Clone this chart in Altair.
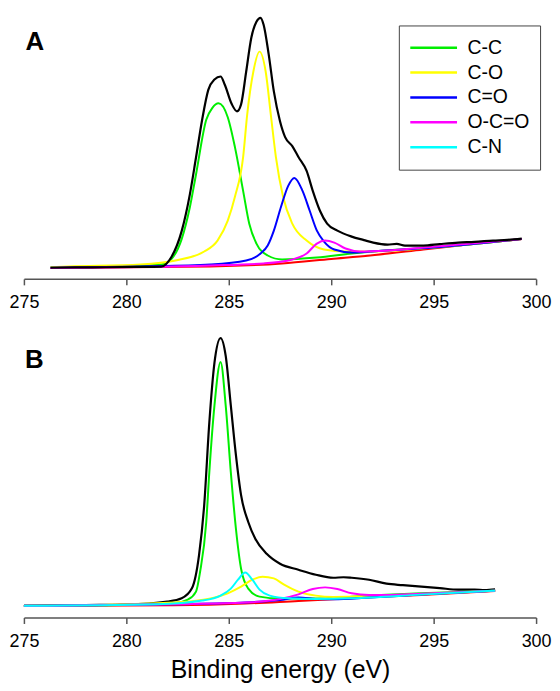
import altair as alt
import pandas as pd

SERIES = ["C-C", "C-O", "C=O", "O-C=O", "C-N"]
COLORS = ["#00ee00", "#ffff00", "#0000ff", "#ff00ff", "#00ffff"]
TICKS = [275, 280, 285, 290, 295, 300]

# ---------------- Panel A (intensity, arbitrary units) ----------------
a_env_x = [276.3, 277.5, 279.0, 280.5, 281.7, 282.2, 282.7, 283.1, 283.4, 283.7, 284.0, 284.3,
           284.6, 284.8, 285.15, 285.4, 285.6, 285.85, 286.1, 286.35, 286.55, 286.7, 286.95,
           287.2, 287.5, 287.75, 288.1, 288.4, 288.8, 289.1, 289.45, 289.8, 290.3, 291.0,
           291.6, 292.05, 292.75, 293.2, 293.6, 294.5, 295.3, 296.2, 297.0, 297.9, 298.6, 299.3]
a_env_y = [11.2, 11.5, 11.7, 12.0, 12.4, 22.0, 48.0, 85.0, 122.0, 160.0, 190.0, 200.5,
           203.5, 195.5, 175.5, 168.5, 175.5, 208.5, 242.5, 258.5, 262.5, 255.5, 225.5,
           188.5, 158.5, 142.5, 133.5, 122.5, 108.5, 88.5, 68.5, 55.5, 48.5, 42.5,
           39.0, 36.5, 34.5, 35.2, 33.5, 33.5, 35.0, 36.5, 37.2, 38.5, 39.2, 40.5]

a_cc_x = [276.3, 279.0, 281.7, 282.2, 282.7, 283.1, 283.4, 283.9, 284.2, 284.5, 284.95, 285.3,
          285.7, 286.0, 286.35, 286.9, 287.6, 289.3, 291.0, 292.0, 295.0, 299.3]
a_cc_y = [11.5, 12.0, 14.5, 20.0, 40.0, 72.0, 105.0, 160.0, 172.0, 176.5, 162.5, 132.5,
          88.5, 55.5, 35.5, 23.5, 19.5, 21.5, 25.5, 27.5, 31.5, 40.0]

a_co_x = [276.3, 277.2, 280.7, 282.4, 283.8, 284.45, 284.95, 285.3, 285.7, 285.9, 286.2, 286.5,
          286.8, 287.05, 287.3, 287.65, 288.1, 288.8, 289.65, 290.7, 291.9, 295.0, 299.3]
a_co_y = [11.8, 12.5, 14.5, 18.5, 27.5, 38.5, 58.5, 82.5, 122.5, 165.5, 208.5, 228.5,
          208.5, 165.5, 122.5, 82.5, 55.5, 38.5, 29.5, 27.5, 27.5, 31.5, 40.0]

a_cdo_x = [276.3, 280.7, 284.1, 285.85, 286.55, 286.9, 287.2, 287.55, 287.9, 288.2, 288.6,
           288.95, 289.3, 289.65, 290.15, 291.0, 291.9, 295.0, 299.3]
a_cdo_y = [11.2, 12.5, 14.5, 18.5, 25.5, 33.5, 48.5, 72.5, 93.5, 101.5, 88.5,
           68.5, 48.5, 37.5, 29.5, 26.5, 27.5, 31.5, 40.0]

a_oco_x = [276.3, 284.1, 286.7, 288.1, 288.8, 289.3, 289.7, 290.15, 290.7, 291.4, 292.75,
           294.5, 296.2, 299.3]
a_oco_y = [11.0, 13.5, 15.5, 19.5, 25.5, 35.5, 38.5, 36.5, 30.5, 27.5, 28.5,
           31.5, 34.5, 40.0]

a_bg_x = [276.3, 284.1, 287.6, 290.0, 291.9, 294.5, 297.1, 299.3]
a_bg_y = [11.0, 12.5, 15.5, 20.0, 23.5, 29.5, 35.5, 40.0]

# ---------------- Panel B ----------------
b_env_x = [275.0, 278.0, 280.0, 282.0, 282.7, 283.2, 283.55, 283.8, 284.05, 284.3, 284.6,
           284.85, 285.1, 285.35, 285.6, 285.95, 286.3, 286.85, 287.5, 288.4, 289.25, 290.1,
           290.6, 291.0, 291.85, 292.7, 293.5, 294.4, 295.3, 296.2, 297.0, 297.5, 298.0]
b_env_y = [11.7, 12.5, 13.0, 16.0, 19.3, 29.3, 63.0, 113.0, 196.0, 256.0, 281.0,
           263.0, 213.0, 163.0, 123.0, 96.0, 79.0, 64.0, 54.0, 48.0, 43.0, 40.0,
           40.5, 40.0, 38.0, 34.0, 32.5, 31.0, 29.5, 28.0, 28.0, 27.5, 28.3]

b_cc_x = [275.0, 278.9, 282.3, 283.0, 283.4, 283.6, 283.9, 284.05, 284.3, 284.6, 284.85,
          285.1, 285.35, 285.6, 285.95, 286.5, 287.5, 289.25, 291.0, 292.7, 294.4, 298.0]
b_cc_y = [11.7, 12.3, 14.3, 18.0, 26.0, 46.0, 96.0, 146.0, 213.0, 257.0, 213.0,
          146.0, 89.0, 49.0, 29.0, 21.0, 19.0, 19.0, 21.0, 23.0, 24.5, 27.0]

b_co_x = [275.0, 278.9, 282.3, 284.05, 284.95, 285.6, 286.15, 286.65, 287.2, 287.7, 288.4,
          289.25, 290.1, 291.85, 294.4, 298.0]
b_co_y = [11.7, 12.7, 15.0, 19.0, 24.3, 31.0, 38.0, 41.0, 39.3, 33.0, 26.0,
          22.0, 20.7, 21.3, 23.3, 27.0]

b_cdo_x = [275.0, 282.3, 285.8, 287.5, 288.4, 289.25, 290.1, 291.85, 294.4, 298.0]
b_cdo_y = [11.7, 13.3, 15.0, 17.7, 20.0, 18.7, 18.3, 20.0, 23.0, 27.0]

b_oco_x = [275.0, 282.3, 285.8, 287.5, 288.4, 289.1, 289.7, 290.3, 291.0, 291.85, 292.7,
           294.4, 298.0]
b_oco_y = [11.7, 13.3, 15.0, 18.7, 23.3, 28.7, 30.3, 28.7, 24.3, 22.7, 22.7,
           24.0, 27.0]

b_cn_x = [275.0, 281.5, 283.7, 284.6, 285.1, 285.45, 285.8, 286.15, 286.5, 287.0, 287.9,
          289.25, 291.0, 294.4, 298.0]
b_cn_y = [11.7, 13.3, 17.0, 22.0, 29.0, 38.0, 45.3, 38.0, 28.0, 22.0, 19.3,
          18.7, 19.3, 23.0, 27.0]

b_bg_x = [275.0, 282.3, 285.8, 288.4, 291.0, 294.4, 298.0]
b_bg_y = [11.7, 12.3, 14.0, 16.7, 19.3, 22.7, 26.7]

W = 515
HA = 264
HB = 289.5
FONT = "Liberation Sans"


def x_enc(title=None):
    kw = dict(values=TICKS, tickSize=6, tickWidth=1.5, tickColor="#555",
              domainColor="#555", domainWidth=1.5, labelFontSize=18, labelFont=FONT,
              labelColor="black", labelPadding=9, labelFlush=False, grid=False)
    if title:
        kw.update(title=title, titleFontSize=25, titleFont=FONT, titleFontWeight="normal",
                  titleColor="black", titlePadding=7)
    else:
        kw.update(title=None)
    return alt.X("E:Q", scale=alt.Scale(domain=[275, 300], nice=False, zero=False),
                 axis=alt.Axis(**kw))


def y_enc(h):
    return alt.Y("I:Q", scale=alt.Scale(domain=[0, h], nice=False, zero=False), axis=None)


def plain_line(xs, ys, color, width, h, title=None):
    df = pd.DataFrame({"E": xs, "I": ys})
    return alt.Chart(df).mark_line(color=color, strokeWidth=width, interpolate="monotone").encode(
        x=x_enc(title), y=y_enc(h))


def comp_line(xs, ys, name, h, legend, title=None):
    df = pd.DataFrame({"E": xs, "I": ys, "series": [name] * len(xs)})
    return alt.Chart(df).mark_line(strokeWidth=2, interpolate="monotone").encode(
        x=x_enc(title), y=y_enc(h),
        color=alt.Color("series:N", scale=alt.Scale(domain=SERIES, range=COLORS), legend=legend))


legend_a = alt.Legend(title=None, orient="none", legendX=377, legendY=9.2,
                      symbolType="stroke", symbolSize=2209, symbolStrokeWidth=2.5,
                      clipHeight=24.75, rowPadding=0, labelFontSize=19.5, labelFont=FONT,
                      labelColor="black", labelOffset=9, padding=10, strokeColor="#444",
                      fillColor="white", labelLimit=300, symbolOffset=0)

label_a = alt.Chart(pd.DataFrame({"t": ["A"]})).mark_text(
    font=FONT, fontWeight="bold", fontSize=26, align="left", baseline="alphabetic", color="black"
).encode(x=alt.value(1.5), y=alt.value(33.5), text="t:N")

label_b = alt.Chart(pd.DataFrame({"t": ["B"]})).mark_text(
    font=FONT, fontWeight="bold", fontSize=26, align="left", baseline="alphabetic", color="black"
).encode(x=alt.value(1), y=alt.value(38.5), text="t:N")

panel_a = alt.layer(
    plain_line(a_bg_x, a_bg_y, "#ff0000", 2, HA),
    comp_line(a_cc_x, a_cc_y, "C-C", HA, legend_a),
    comp_line(a_co_x, a_co_y, "C-O", HA, legend_a),
    comp_line(a_cdo_x, a_cdo_y, "C=O", HA, legend_a),
    comp_line(a_oco_x, a_oco_y, "O-C=O", HA, legend_a),
    plain_line(a_env_x, a_env_y, "#000000", 2.2, HA),
    label_a,
).properties(width=W, height=HA)

T = "Binding energy (eV)"
panel_b = alt.layer(
    plain_line(b_bg_x, b_bg_y, "#ff0000", 2, HB, T),
    plain_line(b_env_x, b_env_y, "#000000", 2.2, HB, T),
    comp_line(b_cc_x, b_cc_y, "C-C", HB, None, T),
    comp_line(b_co_x, b_co_y, "C-O", HB, None, T),
    comp_line(b_cdo_x, b_cdo_y, "C=O", HB, None, T),
    comp_line(b_oco_x, b_oco_y, "O-C=O", HB, None, T),
    comp_line(b_cn_x, b_cn_y, "C-N", HB, None, T),
    label_b,
).properties(width=W, height=HB)

chart = alt.vconcat(panel_a, panel_b, spacing=51, bounds="flush").resolve_scale(
    color="independent"
).properties(
    padding={"left": 0, "top": 3.5, "right": 0, "bottom": 0}
).configure_view(strokeWidth=0)

chart.save("out.html", embed_options={"renderer": "svg", "actions": False})
